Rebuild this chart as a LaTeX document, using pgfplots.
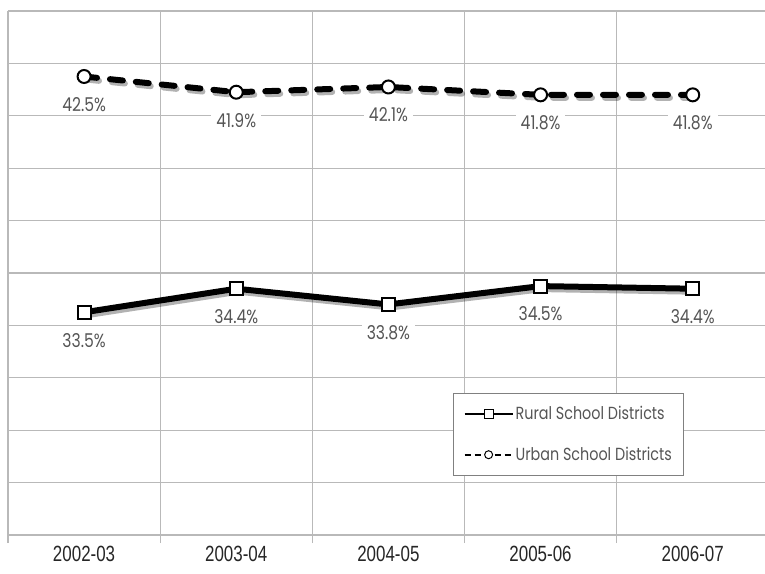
\documentclass[border=0pt]{standalone}
\usepackage{fontspec}
\setmainfont{Poppins}[FakeStretch=0.82]
\newfontfamily\tickfont{Liberation Sans}[FakeStretch=0.77]
\usepackage{pgfplots}
\pgfplotsset{compat=1.18}
\usetikzlibrary{calc}
\definecolor{gridc}{RGB}{185,185,185}
\definecolor{labc}{RGB}{85,85,85}
\begin{document}
\begin{tikzpicture}
\begin{axis}[
  name=ax,
  scale only axis,
  width=757pt, height=524pt,
  xmin=-0.5, xmax=4.475,
  ymin=25, ymax=45,
  /pgf/number format/assume math mode=true,
  axis x line*=bottom, axis y line*=left,
  axis line style={gridc, line width=1.2pt},
  xtick={0,1,2,3,4},
  xticklabels={2002-03,2003-04,2004-05,2005-06,2006-07},
  minor xtick={-0.5,0.5,1.5,2.5,3.5},
  ytick={25,27,...,45},
  yticklabels={},
  major tick length=0pt,
  minor tick length=8pt,
  tick align=outside,
  minor tick style={gridc, line width=1.2pt},
  xmajorgrids=false, xminorgrids=true, ymajorgrids=true,
  grid style={gridc, line width=1.2pt},
  minor grid style={gridc, line width=1.2pt},
  xticklabel style={font=\tickfont\fontsize{22}{26}\selectfont, text=black!85, yshift=-8pt},
  clip=false,
  legend style={at={(0.588,0.271)}, anchor=north west, draw=gray, line width=1pt,
    fill=white, font=\fontsize{17.5}{20}\selectfont, text=labc,
    inner xsep=10pt, inner ysep=11pt, row sep=22pt},
  legend cell align=left,
  legend image code/.code={\draw[mark repeat=2,mark phase=2,#1] plot coordinates {(0pt,0pt) (24pt,0pt) (48pt,0pt)};},
  nodes near coords={\pgfmathprintnumber[fixed,precision=1,fixed zerofill]{\pgfplotspointmeta}\%},
  every node near coord/.append style={anchor=center, yshift=-28pt, fill=white,
    inner xsep=5pt, inner ysep=1pt, text=labc, font=\fontsize{19}{22}\selectfont},
]
% shadows
\addplot[forget plot, draw=black, opacity=0.3, line width=6pt, xshift=2pt, yshift=-3pt, nodes near coords={}, every node near coord/.style={draw=none,fill=none}] coordinates {(0,33.5) (1,34.4) (2,33.8) (3,34.5) (4,34.4)};
\addplot[forget plot, draw=black, opacity=0.3, line width=6pt, line cap=round, dash pattern=on 13pt off 13pt, xshift=2pt, yshift=-3pt, nodes near coords={}, every node near coord/.style={draw=none,fill=none}] coordinates {(0,42.5) (1,41.9) (2,42.1) (3,41.8) (4,41.8)};
% main
\addplot[forget plot, black, line width=6pt, mark=square*, mark size=6.5pt,
  mark options={fill=white, draw=black, line width=2pt, solid}] coordinates {(0,33.5) (1,34.4) (2,33.8) (3,34.5) (4,34.4)};
\addplot[forget plot, black, line width=6pt, line cap=round, dash pattern=on 13pt off 13pt,
  mark=*, mark size=6.5pt,
  mark options={fill=white, draw=black, line width=2pt, solid}] coordinates {(0,42.5) (1,41.9) (2,42.1) (3,41.8) (4,41.8)};
\addlegendimage{black, line width=2pt, mark=square*, mark size=4.5pt, mark options={fill=white, line width=1pt}}
\addlegendentry{Rural School Districts}
\addlegendimage{black, line width=2pt, dash pattern=on 6pt off 4pt, mark=*, mark size=4pt, mark options={fill=white, line width=1pt, solid}}
\addlegendentry{Urban School Districts}
\end{axis}
\pgfresetboundingbox
\path[use as bounding box] ($(ax.south west)+(-8pt,-38pt)$) rectangle ($(ax.north east)+(0pt,11pt)$);
\end{tikzpicture}
\end{document}
